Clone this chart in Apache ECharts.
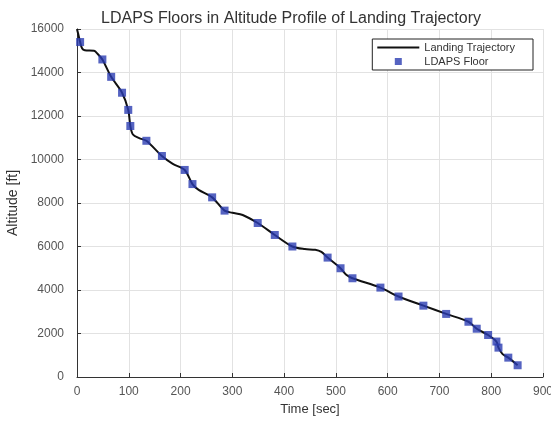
<!DOCTYPE html>
<html><head><meta charset="utf-8">
<script src="https://cdn.jsdelivr.net/npm/echarts@6/dist/echarts.min.js"></script>
<style>html,body{margin:0;padding:0;background:#fff}#c{width:551px;height:425px}</style>
</head><body><div id="c"></div>
<script>
// Landing trajectory (time sec, altitude ft)
const trajTime = [0,2,6,10,15,33,40,49,66,87,99,103,108,120,134,164,185,208,223,235,261,285,300,320,349,382,416,440,460,472,484,509,520,532,586,621,669,713,756,772,794,810,814,822,833,851];
const trajAlt  = [16000,15800,15400,15100,15020,15000,14850,14600,13800,13070,12280,11540,11150,10980,10860,10160,9800,9520,8870,8600,8260,7650,7550,7450,7080,6530,6000,5880,5850,5750,5490,5000,4700,4540,4110,3700,3280,2900,2540,2220,1930,1630,1350,1050,890,540];
// LDAPS floor markers
const floorTime = [6,49,66,87,99,103,134,164,208,223,261,285,349,382,416,484,509,532,586,621,669,713,756,772,794,810,814,833,851];
const floorAlt  = [15400,14600,13800,13070,12280,11540,10860,10160,9520,8870,8260,7650,7080,6530,6000,5490,5000,4540,4110,3700,3280,2900,2540,2220,1930,1630,1350,890,540];

const chart = echarts.init(document.getElementById('c'));
const font = 'Liberation Sans, Arial, sans-serif';
chart.setOption({
  animation: false,
  backgroundColor: '#fff',
  title: {
    text: 'LDAPS Floors in Altitude Profile of Landing Trajectory',
    left: 96, top: 6,
    textStyle: {fontFamily: font, fontSize: 16, fontWeight: 'normal', color: '#333'}
  },
  grid: {left: 77, right: 8, top: 29, bottom: 48, containLabel: false, outerBoundsMode: 'none'},
  legend: {
    orient: 'vertical', right: 18, top: 39,
    itemWidth: 42, itemHeight: 7, itemGap: 3,
    padding: [3, 18, 3, 5],
    borderColor: '#222', borderWidth: 1, backgroundColor: '#fff',
    textStyle: {fontFamily: font, fontSize: 11, color: '#333'},
    data: [
      {name: 'Landing Trajectory', icon: 'path://M0,0H42V2H0Z'},
      {name: 'LDAPS Floor', icon: 'path://M0,0H1V1H0Z'}
    ]
  },
  xAxis: {
    type: 'value', min: 0, max: 900, interval: 100,
    name: 'Time [sec]', nameLocation: 'middle', nameGap: 23,
    nameTextStyle: {fontFamily: font, fontSize: 13, color: '#333'},
    axisLine: {show: true, lineStyle: {color: '#333', width: 1}},
    axisTick: {show: true, inside: true, length: 4, lineStyle: {color: '#333'}},
    axisLabel: {fontFamily: font, fontSize: 12, color: '#555', margin: 9},
    splitLine: {show: true, lineStyle: {color: '#e2e2e2', width: 1}}
  },
  yAxis: {
    type: 'value', min: 0, max: 16000, interval: 2000,
    name: 'Altitude [ft]', nameLocation: 'middle', nameGap: 55,
    nameTextStyle: {fontFamily: font, fontSize: 14, color: '#333'},
    axisLine: {show: true, lineStyle: {color: '#333', width: 1}},
    axisTick: {show: true, inside: true, length: 4, lineStyle: {color: '#333'}},
    axisLabel: {fontFamily: font, fontSize: 12, color: '#555', margin: 13, formatter: v => String(v)},
    splitLine: {show: true, lineStyle: {color: '#e2e2e2', width: 1}}
  },
  series: [
    {
      name: 'Landing Trajectory', type: 'line',
      data: trajTime.map((t, i) => [t, trajAlt[i]]),
      showSymbol: false, smooth: 0.3,
      lineStyle: {color: '#111', width: 2},
      itemStyle: {color: '#111'},
      z: 2
    },
    {
      name: 'LDAPS Floor', type: 'scatter',
      data: floorTime.map((t, i) => [t, floorAlt[i]]),
      symbol: 'rect', symbolSize: 8,
      itemStyle: {color: '#2a3cb2'},
      z: 3
    }
  ]
});
</script></body></html>
